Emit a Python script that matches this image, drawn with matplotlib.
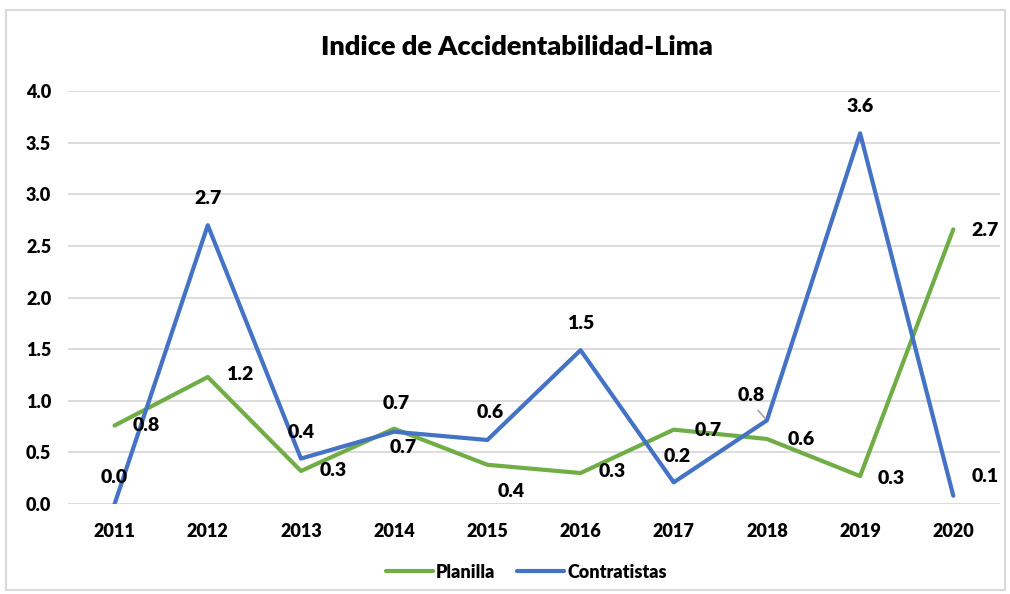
import numpy as np
import matplotlib.pyplot as plt
from matplotlib.patches import Rectangle

years = ['2011', '2012', '2013', '2014', '2015', '2016', '2017', '2018', '2019', '2020']
planilla = [0.76, 1.23, 0.32, 0.73, 0.38, 0.30, 0.72, 0.63, 0.27, 2.66]
contratistas = [0.00, 2.70, 0.44, 0.70, 0.62, 1.49, 0.21, 0.81, 3.59, 0.08]

# label offsets in pixels (dx, dy), placed by hand like the original
off_planilla = [(32, 0), (32, 3), (32, 0), (9, -19), (24, -27), (32, 2), (34, -1), (34, -1), (31, -2), (32, -1)]
off_contratistas = [(0, 27), (0, 27), (0, 26), (2, 28), (3, 27), (0, 27), (4, 26), (-16, 25), (0, 27), (32, 19)]

GREEN = '#70AD47'
BLUE = '#4472C4'
plt.rcParams['font.family'] = ['Lato', 'DejaVu Sans']
plt.rcParams['font.weight'] = 'bold'

fig = plt.figure(figsize=(10.1, 5.94), dpi=100)
ax = fig.add_axes([0.0673, 0.1515, 0.9227, 0.6953])

x = np.arange(len(years))
ax.plot(x, planilla, color=GREEN, lw=3, solid_joinstyle='round', solid_capstyle='round', label='Planilla', zorder=3)
ax.plot(x, contratistas, color=BLUE, lw=3, solid_joinstyle='round', solid_capstyle='round', label='Contratistas', zorder=3)

for xi, v, o in zip(x, planilla, off_planilla):
    ax.annotate(f'{v:.1f}', (xi, v), xytext=o, textcoords='offset pixels',
                ha='center', va='center', fontsize=14, fontweight='heavy')
for i, (xi, v, o) in enumerate(zip(x, contratistas, off_contratistas)):
    ax.annotate(f'{v:.1f}', (xi, v), xytext=o, textcoords='offset pixels',
                ha='center', va='center', fontsize=14, fontweight='heavy')
    if years[i] == '2018':
        # leader line for the shifted label
        ax.annotate('', (xi, v), xytext=(-9, 10), textcoords='offset pixels',
                    arrowprops=dict(arrowstyle='-', color='#A6A6A6', lw=1.2,
                                    shrinkA=0, shrinkB=2))

ax.set_xlim(-0.5, len(years) - 0.5)
ax.set_ylim(0, 4.0)
ax.set_yticks(np.arange(0, 4.01, 0.5))
ax.yaxis.set_major_formatter(plt.FormatStrFormatter('%.1f'))
ax.set_xticks(x)
ax.set_xticklabels(years)
ax.tick_params(axis='both', length=0, labelsize=13)
for lab in ax.get_xticklabels() + ax.get_yticklabels():
    lab.set_fontweight('heavy')
ax.tick_params(axis='x', pad=14)
ax.tick_params(axis='y', pad=12)
ax.grid(axis='y', color='#D9D9D9', lw=1.3, zorder=0)
ax.set_axisbelow(True)
for s in ax.spines.values():
    s.set_visible(False)

fig.text(0.512, 0.921, 'Indice de Accidentabilidad-Lima', ha='center', va='center',
         fontsize=19.5, fontweight='heavy')

leg = ax.legend(loc='center', bbox_to_anchor=(0.492, -0.165), ncol=2, frameon=False,
                fontsize=13, handlelength=2.6, handletextpad=0.2, columnspacing=1.2,
                prop={'weight': 'heavy', 'size': 13})

fig.patches.append(Rectangle((0.006, 0.007), 0.989, 0.977, transform=fig.transFigure,
                             fill=False, edgecolor='#D9D9D9', lw=1.5))

fig.savefig('out.png', dpi=100)
